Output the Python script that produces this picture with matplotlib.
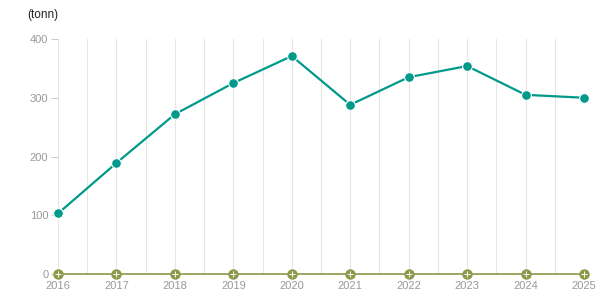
import numpy as np
import matplotlib.pyplot as plt

years = [2016, 2017, 2018, 2019, 2020, 2021, 2022, 2023, 2024, 2025]
tonn = [103, 189, 272, 325, 371, 288, 335, 354, 305, 300]
zero_series = [0, 0, 0, 0, 0, 0, 0, 0, 0, 0]
y_ticks = [0, 100, 200, 300, 400]

teal = '#00998a'
olive = '#8a9a48'
grey = '#999999'

plt.rcParams['font.family'] = ['Liberation Sans', 'DejaVu Sans']

fig = plt.figure(figsize=(6.15, 3.05), dpi=100)
ax = fig.add_axes([0.0943, 0.1016, 0.8553, 0.7705])

# vertical grid at each year and half-year
for x in np.arange(years[0], years[-1] + 0.01, 0.5):
    ax.axvline(x, color='#e6e6e6', linewidth=0.8, zorder=0)

ax.plot(years, zero_series, color=olive, linewidth=1.2, marker='o', markersize=6.5,
        markeredgecolor=olive, clip_on=False, zorder=3)
ax.plot(years, zero_series, linestyle='none', marker='+', markersize=5,
        markeredgecolor='white', markeredgewidth=0.7, clip_on=False, zorder=4)
ax.plot(years, tonn, color=teal, linewidth=1.6, marker='o', markersize=7,
        markeredgecolor='white', markeredgewidth=0.8, clip_on=False, zorder=5)

ax.set_xlim(years[0], years[-1])
ax.set_ylim(0, 400)
ax.set_xticks(years)
ax.set_xticklabels([str(y) for y in years])
ax.set_yticks(y_ticks)

for s in ax.spines.values():
    s.set_visible(False)
ax.tick_params(axis='x', length=0, labelsize=8, labelcolor=grey, pad=5)
ax.tick_params(axis='y', length=5, width=0.8, color='#cccccc', labelsize=8,
               labelcolor=grey, pad=2)

fig.text(0.044, 0.97, '(tonn)', fontsize=8.5, color='#222222', va='top')

plt.savefig('out.png', dpi=100)
